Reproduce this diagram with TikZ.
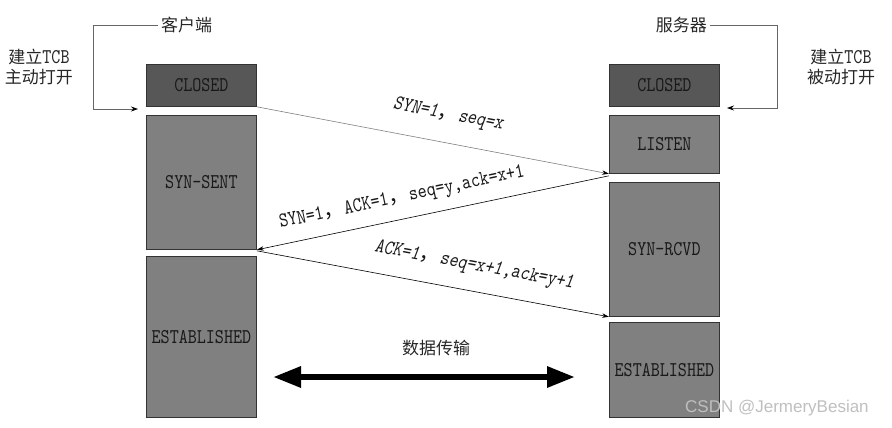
\documentclass[tikz,border=0pt]{standalone}
\usepackage{fontspec}
\newfontfamily\cjk{Noto Sans CJK SC}
\newfontfamily\latm[FakeStretch=0.82]{lmmono10-regular.otf}
\newfontfamily\latmsl[FakeStretch=0.82,FakeSlant=0.18]{lmmono10-regular.otf}
\newfontfamily\wm{Liberation Sans}
\usetikzlibrary{arrows.meta}
\definecolor{boxgray}{HTML}{808080}
\definecolor{darkbox}{HTML}{575757}
\begin{document}
\begin{tikzpicture}[x=1pt,y=-1pt,
  stbox/.style={draw=black!80, line width=0.8pt, fill=boxgray, minimum width=110pt,
    anchor=north west, inner sep=0pt, font=\latm\fontsize{21}{21}\selectfont, text=black!90},
  closedbox/.style={stbox, fill=darkbox},
  msg/.style={-{Stealth[length=7pt,width=4.5pt,black]}, line width=0.6pt},
  side/.style={draw=black!60, line width=0.8pt, -{Stealth[length=7pt,width=5pt,black]}},
  msglbl/.style={font=\latm\fontsize{21}{21}\selectfont, inner sep=0pt, text=black!90},
  msglblsl/.style={font=\latmsl\fontsize{21}{21}\selectfont, inner sep=0pt, text=black!90},
  cjklbl/.style={font=\cjk\fontsize{17}{20}\selectfont, text=black!85},
]
\useasboundingbox (0,0) rectangle (892,428);

% state boxes
\node[closedbox, minimum height=42pt] (lclosed) at (146,64) {CLOSED};
\node[stbox, minimum height=134pt] (lsent) at (146,115) {SYN-SENT};
\node[stbox, minimum height=161pt] (lest) at (146,256) {ESTABLISHED};
\node[closedbox, minimum height=42pt] (rclosed) at (609,64) {CLOSED};
\node[stbox, minimum height=58pt] (rlisten) at (609,115) {LISTEN};
\node[stbox, minimum height=134pt] (rrcvd) at (609,182) {SYN-RCVD};
\node[stbox, minimum height=95pt] (rest) at (609,322) {ESTABLISHED};

% messages
\draw[msg, draw=black!50] (lclosed.south east) -- (rlisten.south west);
\draw[msg] ([yshift=-2pt]rlisten.south west) -- (lsent.south east);
\draw[msg] ([yshift=-1pt]lsent.south east) -- (rrcvd.south west);

\node[msglblsl, rotate=-10.8] (m1) at (448,115) {SYN=1{\cjk ，}seq=x};
\node[msglbl, rotate=11.9] (m2) at (402,198) {SYN=1{\cjk ，}ACK=1{\cjk ，}seq=y,ack=x+1};
\node[msglblsl, rotate=-10.6] (m3) at (474,266) {ACK=1{\cjk ，}seq=x+1,ack=y+1};

% side labels
\node[cjklbl, anchor=west, inner sep=3pt] (client) at (158,25) {客户端};
\coordinate (lin) at (138,109);
\draw[side] (client.west) -- ++(-65,0) |- (lin);
\node[cjklbl, anchor=east, inner sep=3pt] (server) at (710,25) {服务器};
\coordinate (rin) at (727,108);
\draw[side] (server.east) -- ++(67,0) |- (rin);

\node[cjklbl, align=center] (lnote) at (39,67) {建立{\latm\fontsize{21}{20}\selectfont TCB}\\主动打开};
\node[cjklbl, align=center] (rnote) at (841,67) {建立{\latm\fontsize{21}{20}\selectfont TCB}\\被动打开};

% data transfer
\node[cjklbl] (data) at (436,348) {数据传输};
\coordinate (dl) at (273,377);
\coordinate (dr) at (575,377);
\draw[line width=6pt, {Triangle[length=28pt,width=20pt]}-{Triangle[length=28pt,width=20pt]}] (dl) -- (dr);

% watermark
\node[anchor=west, font=\wm\fontsize{17}{17}\selectfont, text=black!25, inner sep=0pt] (wmk) at (685,408) {CSDN @JermeryBesian};
\end{tikzpicture}
\end{document}
